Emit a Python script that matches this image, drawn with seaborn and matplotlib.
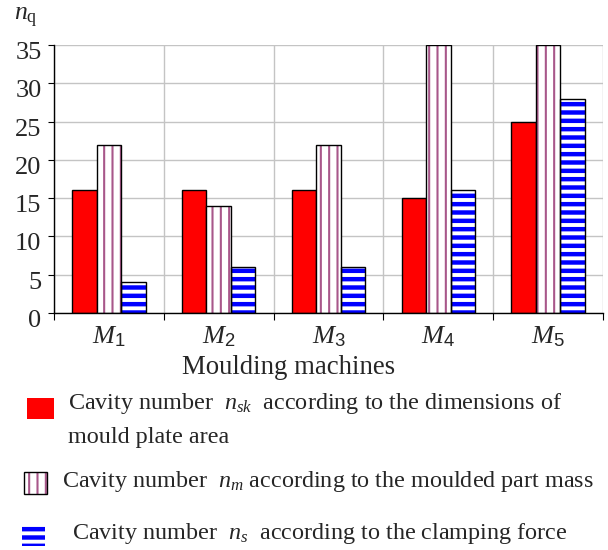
import numpy as np
import pandas as pd
import seaborn as sns
import matplotlib.pyplot as plt
from matplotlib.patches import Rectangle
from matplotlib.transforms import ScaledTranslation

# values
machines = ['M1', 'M2', 'M3', 'M4', 'M5']
n_sk = [16, 16, 16, 15, 25]   # dimensions of mould plate area
n_m = [22, 14, 22, 35, 35]    # moulded part mass
n_s = [4, 6, 6, 16, 28]       # clamping force
series = ['n_sk', 'n_m', 'n_s']
tick_labels = [r'$M_\mathsf{1}$', r'$M_\mathsf{2}$', r'$M_\mathsf{3}$',
               r'$M_\mathsf{4}$', r'$M_\mathsf{5}$']
legend_texts = [r'Cavity number  $n_{sk}$  according to the dimensions of',
                'mould plate area',
                r'Cavity number  $n_m$ according to the moulded part mass',
                r'Cavity number  $n_s$  according to the clamping force']

RED = '#FF0000'
PURPLE = '#A8578A'
BLUE = '#0000FF'

sns.set_style('white')
plt.rcParams['font.family'] = ['Liberation Serif', 'DejaVu Serif']
plt.rcParams['mathtext.fontset'] = 'custom'
plt.rcParams['mathtext.rm'] = 'Liberation Serif'
plt.rcParams['mathtext.it'] = 'Liberation Serif:italic'
plt.rcParams['mathtext.sf'] = 'Liberation Sans'
plt.rcParams['hatch.linewidth'] = 1.5

W, H = 608, 550
def fx(x): return x / W
def fy(y): return 1 - y / H

fig = plt.figure(figsize=(6.08, 5.5), dpi=100)
ax = fig.add_axes([fx(54), fy(313), (603 - 54) / W, (313 - 45) / H])

df = pd.DataFrame({'machine': machines * 3,
                   'series': np.repeat(series, len(machines)),
                   'value': n_sk + n_m + n_s})
sns.barplot(data=df, x='machine', y='value', hue='series', hue_order=series,
            palette=[RED, 'white', 'white'], saturation=1, width=0.67,
            edgecolor='black', linewidth=1, legend=False, errorbar=None, ax=ax)


def stripe(container, hatch, color, hlw):
    for bar in container:
        bar.set_facecolor('white')
        bar.set_hatch(hatch)
        bar.set_edgecolor(color)
        bar.set_linewidth(0)
        if hasattr(bar, 'set_hatch_linewidth'):
            bar.set_hatch_linewidth(hlw)
        ax.add_patch(Rectangle(bar.get_xy(), bar.get_width(), bar.get_height(),
                               fill=False, ec='black', lw=1, zorder=bar.get_zorder() + 0.1))


stripe(ax.containers[1], '||', PURPLE, 1.5)
stripe(ax.containers[2], '--', BLUE, 3.2)

ax.set_xlim(-0.5, 4.5)
ax.set_ylim(0, 35)
ax.set_yticks(np.arange(0, 36, 5))
ax.set_xticks(np.arange(-0.5, 5, 1))
ax.set_xticks(np.arange(5), minor=True)
ax.set_xticklabels([], minor=False)
ax.set_xticklabels(tick_labels, minor=True)
ax.set_xlabel('')
ax.set_ylabel('')

ax.grid(True, which='major', color='#c4c4c4', lw=1)
ax.set_axisbelow(True)
for s in ['top', 'right']:
    ax.spines[s].set_visible(False)
for s in ['left', 'bottom']:
    ax.spines[s].set_color('black')
    ax.spines[s].set_linewidth(1)

ax.tick_params(axis='x', which='major', bottom=True, length=5, color='black')
ax.tick_params(axis='x', which='minor', bottom=True, length=0, pad=8, labelsize=19)
ax.tick_params(axis='y', left=True, length=4, color='black', pad=5, labelsize=19)
for lab in ax.get_yticklabels():
    lab.set_transform(lab.get_transform() + ScaledTranslation(0, -4 / 72, fig.dpi_scale_trans))

fig.text(fx(289), fy(368), 'Moulding machines', ha='center', va='center', fontsize=19.3)
fig.text(fx(14), fy(18), r'$n_\mathrm{q}$', ha='left', va='center', fontsize=18.5)

# legend drawn by hand
fig.patches.append(Rectangle((fx(27), fy(419)), 27 / W, 21 / H, transform=fig.transFigure,
                             facecolor=RED, edgecolor='none'))
fig.patches.append(Rectangle((fx(24), fy(494)), 23 / W, 22 / H, transform=fig.transFigure,
                             facecolor='white', edgecolor=PURPLE, hatch='||', lw=0))
fig.patches.append(Rectangle((fx(24), fy(494)), 23 / W, 22 / H, transform=fig.transFigure,
                             fill=False, edgecolor='black', lw=1))
blue_box = Rectangle((fx(22), fy(546)), 23 / W, 20 / H, transform=fig.transFigure,
                     facecolor='white', edgecolor=BLUE, hatch='--', lw=0)
if hasattr(blue_box, 'set_hatch_linewidth'):
    blue_box.set_hatch_linewidth(3.2)
fig.patches.append(blue_box)

fs = 17.4
fig.text(fx(68), fy(403), legend_texts[0], ha='left', va='center', fontsize=fs)
fig.text(fx(68), fy(437), legend_texts[1], ha='left', va='center', fontsize=fs)
fig.text(fx(62), fy(482), legend_texts[2], ha='left', va='center', fontsize=fs)
fig.text(fx(72), fy(533), legend_texts[3], ha='left', va='center', fontsize=fs)

fig.savefig('out.png', dpi=100)
